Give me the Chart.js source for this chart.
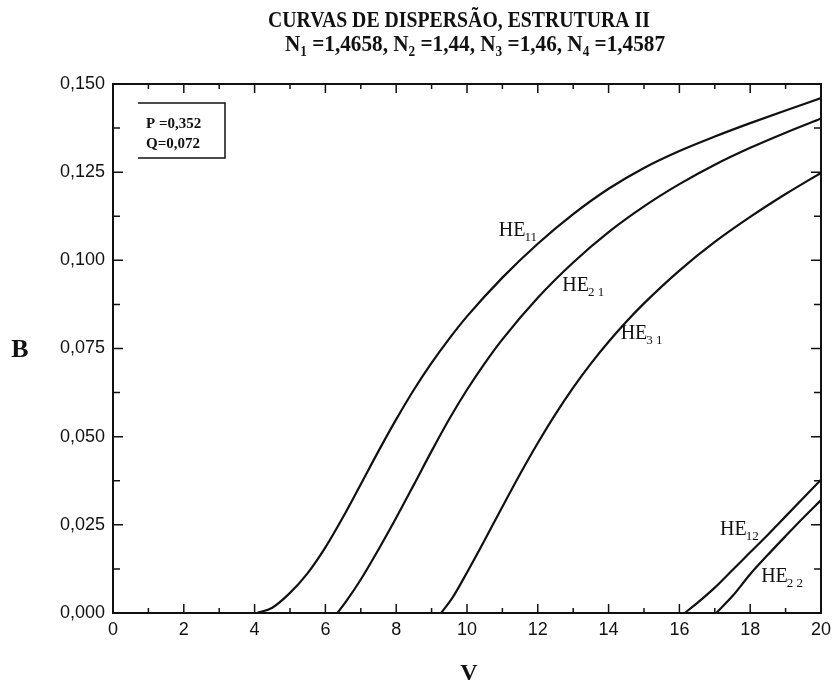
<!DOCTYPE html>
<html>
<head>
<meta charset="utf-8">
<script src="https://cdn.jsdelivr.net/npm/chart.js@4"></script>
<style>
    html, body { margin: 0; padding: 0; background: #fff; }
    #wrap { width: 837px; height: 685px; position: relative; }
</style>
</head>
<body>
<div id="wrap"><canvas id="chart"></canvas></div>
<script>
// curve data (V, B)
const vHE11 = [4.06, 4.5, 5, 5.5, 6, 6.5, 7, 7.5, 8, 8.5, 9, 9.5, 10, 11, 12, 13, 14, 15, 16, 17, 18, 19, 20];
const bHE11 = [0, 0.0015, 0.0057, 0.0113, 0.0186, 0.0272, 0.0365, 0.0459, 0.0549, 0.0633, 0.0709, 0.0778, 0.0841, 0.0951, 0.1047, 0.1131, 0.1203, 0.1262, 0.131, 0.1351, 0.1389, 0.1425, 0.146];
const vHE21 = [6.34, 6.6, 7, 7.5, 8, 8.5, 9, 9.5, 10, 10.5, 11, 12, 13, 14, 15, 16, 17, 18, 19, 20];
const bHE21 = [0, 0.0035, 0.0095, 0.018, 0.027, 0.0364, 0.0459, 0.055, 0.0633, 0.0708, 0.0776, 0.0894, 0.0994, 0.108, 0.1153, 0.1216, 0.1271, 0.1319, 0.1362, 0.1402];
const vHE31 = [9.27, 9.6, 10, 10.5, 11, 11.5, 12, 12.5, 13, 13.5, 14, 14.5, 15, 16, 17, 18, 19, 20];
const bHE31 = [0, 0.0045, 0.0115, 0.0207, 0.0301, 0.0394, 0.0482, 0.0564, 0.0639, 0.0707, 0.0769, 0.0826, 0.0878, 0.0971, 0.1052, 0.1123, 0.1188, 0.1248];
const vHE12 = [16.15, 16.5, 17, 17.5, 18, 18.5, 19, 19.5, 20];
const bHE12 = [0, 0.0028, 0.0072, 0.0122, 0.0172, 0.0222, 0.0274, 0.0326, 0.0378];
const vHE22 = [17.04, 17.5, 18, 18.5, 19, 19.5, 20];
const bHE22 = [0, 0.0048, 0.011, 0.0165, 0.0218, 0.027, 0.032];

const xTicks = [0, 2, 4, 6, 8, 10, 12, 14, 16, 18, 20];
const yTicks = [0, 0.025, 0.05, 0.075, 0.1, 0.125, 0.15];

const titleLine1 = 'CURVAS DE DISPERSÃO, ESTRUTURA II';
const titleLine2 = [['N', '1'], [' =1,4658, N', '2'], [' =1,44, N', '3'], [' =1,46, N', '4'], [' =1,4587', '']];
const paramText = ['P =0,352', 'Q=0,072'];

// curve labels: [main, subscript, v, B]
const curveLabels = [
    ['HE', '11', 10.90, 0.1068],
    ['HE', '2 1', 12.69, 0.0912],
    ['HE', '3 1', 14.34, 0.0778],
    ['HE', '12', 17.15, 0.0222],
    ['HE', '2 2', 18.31, 0.0088]
];

const ink = '#111';

function pts(vs, bs) {
    return vs.map(function(v, i) { return { x: v, y: bs[i] }; });
}

function curve(vs, bs) {
    return {
        data: pts(vs, bs),
        showLine: true,
        borderColor: ink,
        borderWidth: 2.2,
        pointRadius: 0,
        cubicInterpolationMode: 'monotone',
        fill: false
    };
}

function subText(ctx, main, sub, x, y, size) {
    ctx.font = size + 'px "Liberation Serif"';
    ctx.fillText(main, x, y);
    const w = ctx.measureText(main).width;
    ctx.font = Math.round(size * 0.65) + 'px "Liberation Serif"';
    ctx.fillText(sub, x + w - 1, y + size * 0.25);
}

const decor = {
    id: 'decor',
    beforeDraw: function(chart) {
        const ctx = chart.ctx;
        ctx.save();
        ctx.fillStyle = '#fff';
        ctx.fillRect(0, 0, chart.width, chart.height);
        ctx.restore();
    },
    afterDraw: function(chart) {
        const ctx = chart.ctx;
        const a = chart.chartArea;
        const xs = chart.scales.x;
        const ys = chart.scales.y;
        ctx.save();
        ctx.strokeStyle = ink;
        ctx.fillStyle = ink;

        // frame
        ctx.lineWidth = 2;
        ctx.strokeRect(a.left, a.top, a.right - a.left, a.bottom - a.top);

        // inward ticks
        ctx.lineWidth = 1.5;
        ctx.beginPath();
        for (let v = 0; v <= 20; v++) {
            const px = xs.getPixelForValue(v);
            const len = v % 2 === 0 ? 9 : 5;
            ctx.moveTo(px, a.bottom); ctx.lineTo(px, a.bottom - len);
            ctx.moveTo(px, a.top); ctx.lineTo(px, a.top + len);
        }
        for (let k = 0; k <= 12; k++) {
            const py = ys.getPixelForValue(k * 0.0125);
            const len = k % 2 === 0 ? 10 : 7;
            ctx.moveTo(a.left, py); ctx.lineTo(a.left + len, py);
            ctx.moveTo(a.right, py); ctx.lineTo(a.right - len, py);
        }
        ctx.stroke();

        // title
        ctx.textBaseline = 'alphabetic';
        ctx.font = 'bold 24px "Liberation Serif"';
        let w1 = ctx.measureText(titleLine1).width;
        ctx.save();
        ctx.translate(268, 27);
        ctx.scale(382 / w1, 1);
        ctx.fillText(titleLine1, 0, 0);
        ctx.restore();

        let w2 = 0;
        titleLine2.forEach(function(p) {
            ctx.font = 'bold 24px "Liberation Serif"';
            w2 += ctx.measureText(p[0]).width;
            ctx.font = 'bold 15px "Liberation Serif"';
            w2 += ctx.measureText(p[1]).width;
        });
        ctx.save();
        ctx.translate(285, 51);
        ctx.scale(380 / w2, 1);
        let cx = 0;
        titleLine2.forEach(function(p) {
            ctx.font = 'bold 24px "Liberation Serif"';
            ctx.fillText(p[0], cx, 0);
            cx += ctx.measureText(p[0]).width;
            ctx.font = 'bold 15px "Liberation Serif"';
            ctx.fillText(p[1], cx, 5);
            cx += ctx.measureText(p[1]).width;
        });
        ctx.restore();

        // axis titles
        ctx.font = 'bold 26px "Liberation Serif"';
        ctx.textAlign = 'center';
        ctx.textBaseline = 'middle';
        ctx.fillText('B', 20, 350);
        ctx.font = 'bold 24px "Liberation Serif"';
        ctx.fillText('V', 469, 674);

        // parameter box
        ctx.textAlign = 'left';
        ctx.textBaseline = 'alphabetic';
        ctx.lineWidth = 1.5;
        ctx.beginPath();
        ctx.moveTo(138, 103); ctx.lineTo(225, 103); ctx.lineTo(225, 158); ctx.lineTo(138, 158);
        ctx.stroke();
        ctx.font = 'bold 15px "Liberation Serif"';
        ctx.fillText(paramText[0], 146, 128);
        ctx.fillText(paramText[1], 146, 148);

        // curve labels
        curveLabels.forEach(function(l) {
            subText(ctx, l[0], l[1], xs.getPixelForValue(l[2]), ys.getPixelForValue(l[3]), 20);
        });
        ctx.restore();
    }
};

const ctx = document.getElementById('chart').getContext('2d');
new Chart(ctx, {
    type: 'scatter',
    data: {
        datasets: [
            curve(vHE11, bHE11),
            curve(vHE21, bHE21),
            curve(vHE31, bHE31),
            curve(vHE12, bHE12),
            curve(vHE22, bHE22)
        ]
    },
    options: {
        responsive: true,
        maintainAspectRatio: false,
        animation: false,
        layout: { padding: { top: 84, right: 14, left: 0, bottom: 0 } },
        plugins: {
            legend: { display: false },
            tooltip: { enabled: false }
        },
        scales: {
            x: {
                type: 'linear',
                min: 0,
                max: 20,
                afterBuildTicks: function(s) { s.ticks = xTicks.map(function(v) { return { value: v }; }); },
                afterFit: function(s) { s.height = 72; },
                ticks: {
                    color: ink,
                    padding: 6,
                    maxRotation: 0,
                    font: { family: 'Liberation Sans', size: 18 }
                },
                grid: { display: false, drawTicks: false },
                border: { display: false }
            },
            y: {
                type: 'linear',
                min: 0,
                max: 0.15,
                afterBuildTicks: function(s) { s.ticks = yTicks.map(function(v) { return { value: v }; }); },
                afterFit: function(s) { s.width = 113; },
                ticks: {
                    color: ink,
                    padding: 8,
                    font: { family: 'Liberation Sans', size: 18 },
                    callback: function(v) { return v.toFixed(3).replace('.', ','); }
                },
                grid: { display: false, drawTicks: false },
                border: { display: false }
            }
        }
    },
    plugins: [decor]
});
</script>
</body>
</html>
